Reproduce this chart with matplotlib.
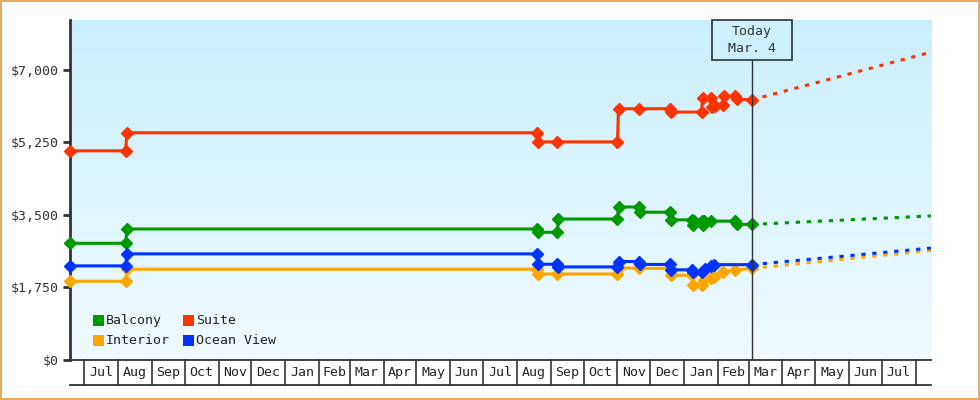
import numpy as np
import pandas as pd
import matplotlib
matplotlib.use('Agg')
import matplotlib.pyplot as plt
import matplotlib.dates as mdates
from matplotlib.colors import LinearSegmentedColormap
from matplotlib.patches import Rectangle
from matplotlib.ticker import FuncFormatter

# price history per cabin type
balcony_dates = ['2013-06-18', '2013-08-08', '2013-08-09', '2014-08-19', '2014-08-20', '2014-09-07',
                 '2014-09-08', '2014-11-01', '2014-11-02', '2014-11-21', '2014-11-22', '2014-12-19',
                 '2014-12-20', '2015-01-08', '2015-01-09', '2015-01-10', '2015-01-17', '2015-01-18',
                 '2015-01-19', '2015-01-26', '2015-02-17', '2015-02-18', '2015-03-04']
balcony_prices = [2815, 2815, 3160, 3160, 3080, 3080, 3400, 3400, 3690, 3690, 3565, 3565,
                  3380, 3380, 3265, 3350, 3350, 3265, 3350, 3350, 3350, 3270, 3270]

interior_dates = ['2013-06-18', '2013-08-08', '2013-08-09', '2014-08-19', '2014-08-20', '2014-09-07',
                  '2014-11-01', '2014-11-02', '2014-11-21', '2014-12-19', '2014-12-20', '2015-01-08',
                  '2015-01-09', '2015-01-17', '2015-01-19', '2015-01-26', '2015-01-28', '2015-02-06',
                  '2015-02-17', '2015-03-04']
interior_prices = [1900, 1900, 2190, 2190, 2075, 2075, 2075, 2225, 2210, 2210, 2045, 2045,
                   1815, 1815, 1930, 1980, 2010, 2130, 2170, 2210]

suite_dates = ['2013-06-18', '2013-08-08', '2013-08-09', '2014-08-19', '2014-08-20', '2014-09-07',
               '2014-11-01', '2014-11-02', '2014-11-21', '2014-12-19', '2014-12-20', '2015-01-17',
               '2015-01-18', '2015-01-26', '2015-01-27', '2015-01-29', '2015-02-06', '2015-02-07',
               '2015-02-17', '2015-02-18', '2015-03-04']
suite_prices = [5045, 5045, 5480, 5480, 5260, 5260, 5260, 6060, 6060, 6060, 5980, 5980,
                6330, 6330, 6110, 6130, 6140, 6360, 6360, 6290, 6275]

ocean_dates = ['2013-06-18', '2013-08-08', '2013-08-09', '2014-08-19', '2014-08-20', '2014-09-07',
               '2014-09-08', '2014-11-01', '2014-11-02', '2014-11-21', '2014-11-22', '2014-12-19',
               '2014-12-20', '2015-01-08', '2015-01-09', '2015-01-17', '2015-01-20', '2015-01-26',
               '2015-01-28', '2015-03-04']
ocean_prices = [2270, 2270, 2560, 2560, 2310, 2310, 2245, 2245, 2375, 2375, 2305, 2305,
                2175, 2175, 2130, 2130, 2200, 2260, 2300, 2300]

# projected prices
proj_dates = ['2015-03-04', '2015-08-15']
balcony_proj = [3270, 3475]
interior_proj = [2210, 2645]
suite_proj = [6275, 7425]
ocean_proj = [2300, 2700]

today = '2015-03-04'
today_label = 'Today\nMar. 4'
x_start, x_end = '2013-06-18', '2015-08-15'
y_ticks = [0, 1750, 3500, 5250, 7000]

names = ['Balcony', 'Interior', 'Suite', 'Ocean View']
colors = ['#009900', '#FFA500', '#FF3300', '#0033FF']
series = [(balcony_dates, balcony_prices, balcony_proj),
          (interior_dates, interior_prices, interior_proj),
          (suite_dates, suite_prices, suite_proj),
          (ocean_dates, ocean_prices, ocean_proj)]

FONT = 'DejaVu Sans Mono'
TXT = '#333333'
plt.rcParams['font.family'] = FONT
plt.rcParams['font.size'] = 9.5

W, H = 980, 400
fig = plt.figure(figsize=(W / 100, H / 100), dpi=100)
fig.patch.set_facecolor('white')
ax = fig.add_axes([70 / W, 40 / H, 861 / W, 340 / H])

# background gradient
cmap = LinearSegmentedColormap.from_list('bg', ['#F0FAFF', '#CAEFFC'])
ax.imshow(np.linspace(0, 1, 256).reshape(-1, 1), cmap=cmap, origin='lower',
          extent=(0, 1, 0, 1), transform=ax.transAxes, aspect='auto', zorder=0)

for (d, p, pr), c in zip(series, colors):
    ax.plot(pd.to_datetime(d), p, color=c, lw=2.2, marker='D', ms=6.5,
            mec=c, zorder=3, clip_on=False)
    ax.plot(pd.to_datetime(proj_dates), pr, color=c, lw=2.2,
            linestyle=(0, (1.4, 2.2)), zorder=3)

x0, x1 = pd.Timestamp(x_start), pd.Timestamp(x_end)
ax.set_xlim(x0, x1)
ax.set_ylim(0, 8200)

# y axis
ax.set_yticks(y_ticks)
ax.yaxis.set_major_formatter(FuncFormatter(lambda v, _: '${:,.0f}'.format(v)))
ax.tick_params(axis='y', direction='out', length=5, width=2, color=TXT,
               labelcolor=TXT, pad=3)
ax.set_xticks([])
for s in ['top', 'right']:
    ax.spines[s].set_visible(False)
ax.spines['left'].set_linewidth(2)
ax.spines['left'].set_color(TXT)
ax.spines['bottom'].set_linewidth(1.3)
ax.spines['bottom'].set_color(TXT)

# month boxes under the axis
blend = matplotlib.transforms.blended_transform_factory(ax.transData, ax.transAxes)
box_h = 25 / 340
months = pd.date_range('2013-07-01', '2015-08-01', freq='MS')
for m in months:
    ax.plot([m, m], [0, -box_h], color=TXT, lw=1.2, transform=blend, clip_on=False)
for a, b in zip(months[:-1], months[1:]):
    ax.text(a + (b - a) / 2, -box_h / 2, a.strftime('%b'), transform=blend,
            ha='center', va='center', color='#222222', clip_on=False)
ax.plot([0, 1], [-box_h, -box_h], color=TXT, lw=1.3, transform=ax.transAxes, clip_on=False)

# today marker
t = pd.Timestamp(today)
ax.plot([t, t], [0, 1 - 40 / 340], color=TXT, lw=1, transform=blend, zorder=4)
tx = ax.transData.transform((mdates.date2num(t), 0))[0]
bw, bh = 80, 40
fig.add_artist(Rectangle(((tx - bw / 2) / W, (H - 20 - bh) / H), bw / W, bh / H,
                         transform=fig.transFigure, facecolor='#CCF0FC',
                         edgecolor=TXT, lw=1.2, zorder=5))
fig.text(tx / W, (H - 40) / H, today_label, ha='center', va='center',
         color=TXT, linespacing=1.45, zorder=6)

# legend
leg_pos = [(93, 315), (93, 335), (183, 315), (183, 335)]
for (lx, ly), n, c in zip(leg_pos, names, colors):
    fig.add_artist(Rectangle((lx / W, (H - ly - 11) / H), 11 / W, 11 / H,
                             transform=fig.transFigure, facecolor=c, edgecolor='none'))
    fig.text((lx + 13) / W, (H - ly - 5.5) / H, n, ha='left', va='center', color='#222222')

# orange frame around the whole chart
fig.add_artist(Rectangle((0.001, 0.002), 0.998, 0.995, transform=fig.transFigure,
                         facecolor='none', edgecolor='#E8A964', lw=1.5))

plt.savefig('out.png', dpi=100)
